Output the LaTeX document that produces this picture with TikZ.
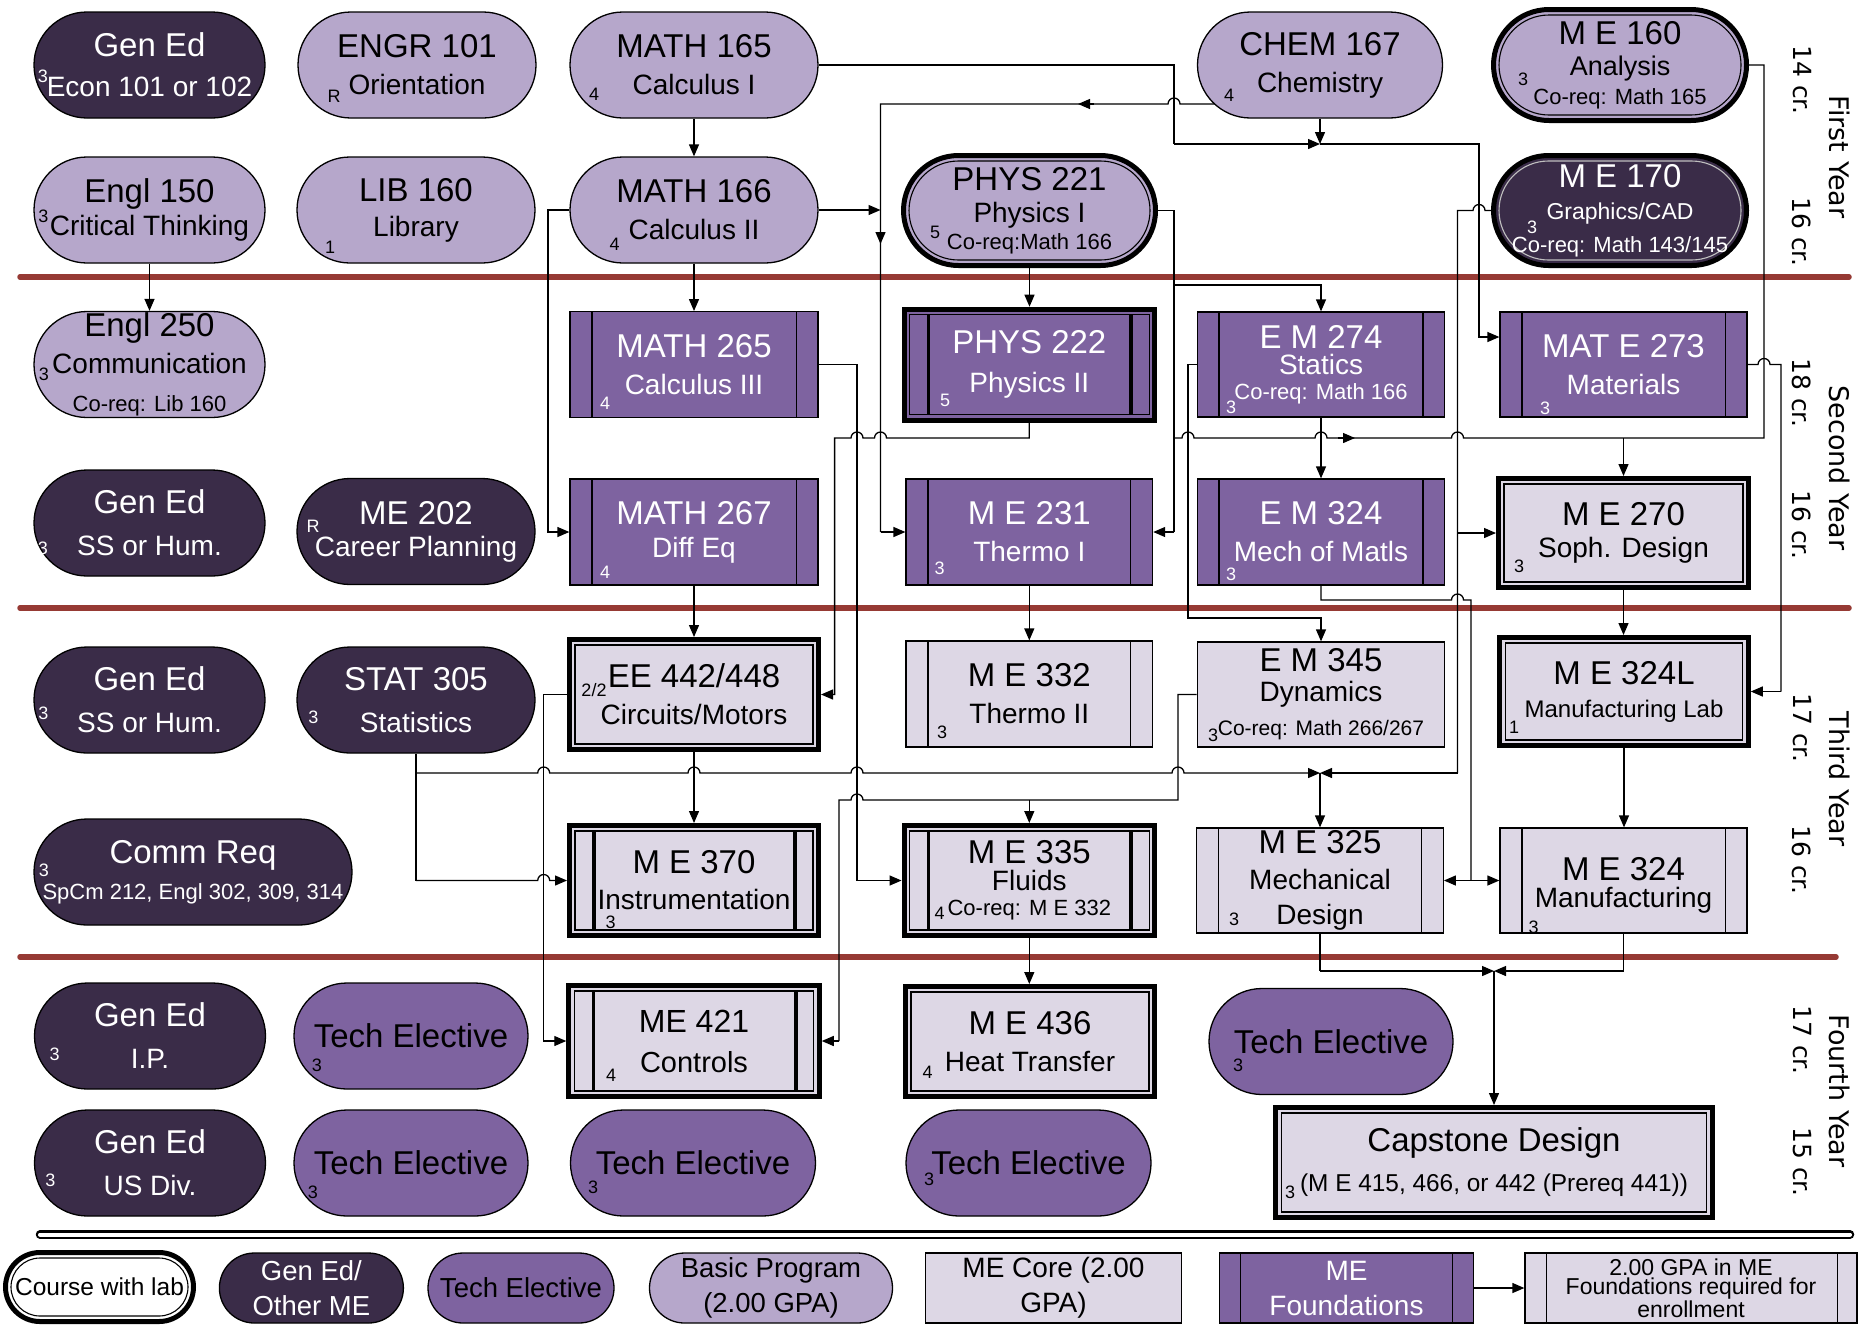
\documentclass[tikz,border=0pt]{standalone}
\usepackage{fontspec}
\setmainfont{Liberation Sans}
\newfontfamily\yrfont{DejaVu Sans}
\usetikzlibrary{arrows.meta,calc}
\pgfdeclarelayer{bg}
\pgfsetlayers{bg,main}
\definecolor{basic}{HTML}{B6A7CB}
\definecolor{dark}{HTML}{3A2C48}
\definecolor{tech}{HTML}{7E63A0}
\definecolor{core}{HTML}{DDD7E5}
\definecolor{redl}{HTML}{963A34}
\newcommand\ftitle{\fontsize{33}{37}\selectfont}
\newcommand\fsub{\fontsize{28}{37}\selectfont}
\newcommand\fco{\fontsize{22}{26}\selectfont}
\newcommand\fcr{\fontsize{18}{18}\selectfont}
\newcommand\fz[1]{\fontsize{#1}{37}\selectfont}
\newcommand\mybars[1]{\draw[line width=1.3pt] ([xshift=22.5pt]#1.north west) -- ([xshift=22.5pt]#1.south west) ([xshift=-22.5pt]#1.north east) -- ([xshift=-22.5pt]#1.south east);}
\newcommand\mylabr[1]{\draw[line width=1.1pt] ([shift={(8,8)}]#1.north west) rectangle ([shift={(-8,-8)}]#1.south east);}
\newcommand\mylabbars[1]{\draw[line width=3.5pt] ([shift={(27,8)}]#1.north west) -- ([shift={(27,-8)}]#1.south west) ([shift={(-26,8)}]#1.north east) -- ([shift={(-26,-8)}]#1.south east);}
\newcommand\mylabp[2]{\draw[line width=1.1pt, rounded corners=#2] ([shift={(8,8)}]#1.north west) rectangle ([shift={(-8,-8)}]#1.south east);}
\tikzset{
  box/.style={rectangle, draw=black, line width=1.3pt, inner sep=0pt},
  sz/.style 2 args={minimum width=#1, minimum height=#2},
  pill/.style={rounded corners=#1},
  lab/.style={line width=5pt},
  tw/.style={align=center, font=\fsub, text=white, inner sep=0pt},
  tb/.style={align=center, font=\fsub, text=black, inner sep=0pt},
  cw/.style={font=\fcr, text=white, inner sep=0pt},
  cb/.style={font=\fcr, text=black, inner sep=0pt},
  conn/.style={line width=1.3pt, draw=black},
  arr/.style={conn, -{Triangle[length=12pt,width=10pt]}},
  redline/.style={draw=redl, line width=5.5pt, line cap=round},
  yr/.style={font=\yrfont\fontsize{27}{30}\selectfont, rotate=-90, inner sep=0pt},
  crl/.style={font=\yrfont\fontsize{25}{28}\selectfont, rotate=-90, inner sep=0pt},
}
\begin{document}
\begin{tikzpicture}[x=1pt,y=-1pt]
\useasboundingbox (0,0) rectangle (1859,1326);
\begin{pgfonlayer}{bg}
\fill[white] (0,0) rectangle (1859,1326);
\draw[redline] (20,277) -- (1849,277);
\draw[redline] (20,608) -- (1849,608);
\draw[redline] (20,957) -- (1836,957);
\draw[line width=8.5pt, line cap=round] (40,1234.5) -- (1850,1234.5);
\draw[line width=4pt, white, line cap=round] (40,1234.5) -- (1850,1234.5);
\end{pgfonlayer}

% ---------- Row 1
\node[box,pill=53pt,sz={231}{106},fill=dark] (genA) at (149.5,65) {};
\node[tw] (genAt) at (genA) {{\ftitle Gen Ed}\\[3pt]Econ 101 or 102};
\node[cw] (genAc) at (43,76) {3};

\node[box,pill=53pt,sz={238}{106},fill=basic] (engr) at (417,65) {};
\node[tb] (engrt) at (engr) {{\ftitle ENGR 101}\\Orientation};
\node[cb] (engrc) at (334,96) {R};

\node[box,pill=53pt,sz={248}{106},fill=basic] (m165) at (694,65) {};
\node[tb] (m165t) at (m165) {{\ftitle MATH 165}\\Calculus I};
\node[cb] (m165c) at (594,94) {4};

\node[box,pill=53pt,sz={245}{106},fill=basic] (chem) at (1320,65) {};
\node[tb] (chemt) at (chem) {{\ftitle CHEM 167}\\Chemistry};
\node[cb] (chemc) at (1229,95) {4};

\node[box,lab,pill=55.5pt,sz={253}{111},fill=basic] (me160) at (1620,65) {};
\mylabp{me160}{50pt}
\node[tb] (me160t) at (me160) {{\ftitle M E 160}\\[-6pt]{\fz{27}Analysis}\\[-8pt]{\fco Co-req: Math 165}};
\node[cb] (me160c) at (1523,79) {3};

% ---------- Row 2
\node[box,pill=53pt,sz={231}{106},fill=basic] (engl150) at (149.5,210) {};
\node[tb] (engl150t) at (engl150) {{\ftitle Engl 150}\\[-4pt]Critical Thinking};
\node[cb] (engl150c) at (43.5,216) {3};

\node[box,pill=53pt,sz={238}{106},fill=basic] (lib) at (416,210) {};
\node[tb] (libt) at (lib) {{\ftitle LIB 160}\\[-2pt]Library};
\node[cb] (libc) at (330,247) {1};

\node[box,pill=53pt,sz={248}{106},fill=basic] (m166) at (694,210) {};
\node[tb] (m166t) at (m166) {{\ftitle MATH 166}\\Calculus II};
\node[cb] (m166c) at (614.5,244) {4};

\node[box,lab,pill=55pt,sz={252}{110},fill=basic] (phys221) at (1029.5,210.5) {};
\mylabp{phys221}{49.5pt}
\node[tb] (phys221t) at (phys221) {{\ftitle PHYS 221}\\[-5pt]Physics I\\[-10pt]{\fco Co-req:Math 166}};
\node[cb] (phys221c) at (935,232) {5};

\node[box,lab,pill=55pt,sz={253}{110},fill=dark] (me170) at (1620,210.5) {};
\draw[line width=1.1pt, white!75!black, rounded corners=49.5pt] ([shift={(8,8)}]me170.north west) rectangle ([shift={(-8,-8)}]me170.south east);
\node[tw] (me170t) at (me170) {{\ftitle M E 170}\\[-5pt]{\fz{23}Graphics/CAD}\\[-4pt]{\fco Co-req: Math 143/145}};
\node[cw] (me170c) at (1532,227) {3};

% ---------- Row 3
\node[box,pill=53pt,sz={231}{106},fill=basic] (engl250) at (149.5,364.5) {};
\node[tb] (engl250t) at (engl250) {{\ftitle Engl 250}\\Communication\\[1pt]{\fco Co-req: Lib 160}};
\node[cb] (engl250c) at (44,374) {3};

\node[box,sz={248}{106},fill=tech] (m265) at (694,364.7) {};
\mybars{m265}
\node[tw] (m265t) at (m265) {{\ftitle MATH 265}\\Calculus III};
\node[cw] (m265c) at (605,403) {4};

\node[box,lab,sz={250.5}{111},fill=tech] (phys222) at (1029.3,364.7) {};
\mylabr{phys222}\mylabbars{phys222}
\node[tw] (phys222t) at (phys222) {{\ftitle PHYS 222}\\[2pt]Physics II};
\node[cw] (phys222c) at (945,400) {5};

\node[box,sz={247.5}{105},fill=tech] (em274) at (1321,364.5) {};
\mybars{em274}
\node[tw] (em274t) at (em274) {{\ftitle E M 274}\\[-11pt]Statics\\[-12pt]{\fco Co-req: Math 166}};
\node[cw] (em274c) at (1231,407) {3};

\node[box,sz={247}{105},fill=tech] (mate273) at (1623.5,364.5) {};
\mybars{mate273}
\node[tw] (mate273t) at (mate273) {{\ftitle MAT E 273}\\Materials};
\node[cw] (mate273c) at (1545,408) {3};

% ---------- Row 4
\node[box,pill=53pt,sz={231}{106},fill=dark] (genB) at (149.5,523) {};
\node[tw] (genBt) at (genB) {{\ftitle Gen Ed}\\[5pt]SS or Hum.};
\node[cw] (genBc) at (43,548) {3};

\node[box,pill=53pt,sz={238}{106},fill=dark] (me202) at (416,531.5) {};
\node[tw] (me202t) at (me202) {{\ftitle ME 202}\\[-5pt]Career Planning};
\node[cw] (me202c) at (313,526) {R};

\node[box,sz={248}{106},fill=tech] (m267) at (694,532) {};
\mybars{m267}
\node[tw] (m267t) at (m267) {{\ftitle MATH 267}\\[-4pt]Diff Eq};
\node[cw] (m267c) at (605,572) {4};

\node[box,sz={246.5}{106},fill=tech] (me231) at (1029.3,532) {};
\mybars{me231}
\node[tw] (me231t) at (me231) {{\ftitle M E 231}\\Thermo I};
\node[cw] (me231c) at (939.5,568) {3};

\node[box,sz={247.5}{106},fill=tech] (em324) at (1321,532) {};
\mybars{em324}
\node[tw] (em324t) at (em324) {{\ftitle E M 324}\\Mech of Matls};
\node[cw] (em324c) at (1231,574) {3};

\node[box,lab,sz={250}{109},fill=core] (me270) at (1623.5,533) {};
\mylabr{me270}
\node[tb] (me270t) at (me270) {{\ftitle M E 270}\\[-5pt]Soph. Design};
\node[cb] (me270c) at (1519,566) {3};

% ---------- Row 5
\node[box,pill=53pt,sz={231}{106},fill=dark] (genC) at (149.5,700) {};
\node[tw] (genCt) at (genC) {{\ftitle Gen Ed}\\[5pt]SS or Hum.};
\node[cw] (genCc) at (43.5,713) {3};

\node[box,pill=53pt,sz={238}{106},fill=dark] (stat) at (416,700) {};
\node[tw] (statt) at (stat) {{\ftitle STAT 305}\\[5pt]Statistics};
\node[cw] (statc) at (313.5,717) {3};

\node[box,lab,sz={249}{110},fill=core] (ee442) at (694,694.5) {};
\mylabr{ee442}
\node[tb] (ee442t) at (ee442) {{\ftitle EE 442/448}\\Circuits/Motors};
\node[cb] (ee442c) at (594,690) {2/2};

\node[box,sz={246.5}{106},fill=core] (me332) at (1029.3,694) {};
\mybars{me332}
\node[tb] (me332t) at (me332) {{\ftitle M E 332}\\Thermo II};
\node[cb] (me332c) at (942,732) {3};

\node[box,sz={247.5}{105},fill=core] (em345) at (1321,694.5) {};
\node[tb] (em345t) at (em345) {{\ftitle E M 345}\\[-7pt]Dynamics\\[-3pt]{\fontsize{21}{26}\selectfont Co-req: Math 266/267}};
\node[cb] (em345c) at (1213,735) {3};

\node[box,lab,sz={248.5}{108},fill=core] (me324L) at (1624,691.5) {};
\mylabr{me324L}
\node[tb] (me324Lt) at (me324L) {{\ftitle M E 324L}\\[-4pt]{\fz{24}Manufacturing Lab}};
\node[cb] (me324Lc) at (1514,727) {1};

% ---------- Row 6
\node[box,pill=53pt,sz={318}{106},fill=dark] (comm) at (193,872) {};
\node[tw] (commt) at (comm) {{\ftitle Comm Req}\\[-1pt]{\fco SpCm 212, Engl 302, 309, 314}};
\node[cw] (commc) at (44,870) {3};

\node[box,lab,sz={249}{110},fill=core] (me370) at (694,880.5) {};
\mylabr{me370}\mylabbars{me370}
\node[tb] (me370t) at (me370) {{\ftitle M E 370}\\[-1pt]Instrumentation};
\node[cb] (me370c) at (610.5,922) {3};

\node[box,lab,sz={250.5}{110},fill=core] (me335) at (1029.3,880.5) {};
\mylabr{me335}\mylabbars{me335}
\node[tb] (me335t) at (me335) {{\ftitle M E 335}\\[-10pt]Fluids\\[-12pt]{\fco Co-req: M E 332}};
\node[cb] (me335c) at (939.5,913) {4};

\node[box,sz={246.5}{105},fill=core] (me325) at (1320,880.5) {};
\mybars{me325}
\node[tb] (me325t) at (me325) {{\ftitle M E 325}\\[-1pt]Mechanical\\[-2pt]Design};
\node[cb] (me325c) at (1234,919) {3};

\node[box,sz={247}{105},fill=core] (me324) at (1623.5,880.5) {};
\mybars{me324}
\node[tb] (me324t) at ([shift={(0,5)}]me324) {{\ftitle M E 324}\\[-10pt]Manufacturing};
\node[cb] (me324c) at (1533.5,927) {3};

% ---------- Row 7
\node[box,pill=53pt,sz={231}{106},fill=dark] (genD) at (150,1036) {};
\node[tw] (genDt) at (genD) {{\ftitle Gen Ed}\\[5pt]I.P.};
\node[cw] (genDc) at (54.6,1054) {3};

\node[box,pill=53pt,sz={234}{106},fill=tech] (te1) at (411,1036) {};
\node[tb] (te1t) at (te1) {\ftitle Tech Elective};
\node[cb] (te1c) at (317,1065) {3};

\node[box,lab,sz={250.5}{111},fill=core] (me421) at (694,1041) {};
\mylabr{me421}\mylabbars{me421}
\node[tb] (me421t) at (me421) {{\fz{32}ME 421}\\[3pt]{\fz{29}Controls}};
\node[cb] (me421c) at (611,1075) {4};

\node[box,lab,sz={249}{110},fill=core] (me436) at (1030,1041.5) {};
\mylabr{me436}
\node[tb] (me436t) at (me436) {{\ftitle M E 436}\\Heat Transfer};
\node[cb] (me436c) at (927.5,1072) {4};

\node[box,pill=53pt,sz={244}{106},fill=tech] (te2) at (1331,1041.5) {};
\node[tb] (te2t) at (te2) {\ftitle Tech Elective};
\node[cb] (te2c) at (1238,1065) {3};

% ---------- Row 8
\node[box,pill=53pt,sz={231}{106},fill=dark] (genE) at (150,1163) {};
\node[tw] (genEt) at (genE) {{\ftitle Gen Ed}\\[5pt]US Div.};
\node[cw] (genEc) at (50.4,1180) {3};

\node[box,pill=53pt,sz={234}{106},fill=tech] (te3) at (411,1163) {};
\node[tb] (te3t) at (te3) {\ftitle Tech Elective};
\node[cb] (te3c) at (313,1192) {3};

\node[box,pill=53pt,sz={245}{106},fill=tech] (te4) at (693,1163) {};
\node[tb] (te4t) at (te4) {\ftitle Tech Elective};
\node[cb] (te4c) at (593,1187) {3};

\node[box,pill=53pt,sz={245}{106},fill=tech] (te5) at (1028.5,1163) {};
\node[tb] (te5t) at (te5) {\ftitle Tech Elective};
\node[cb] (te5c) at (929,1179) {3};

\node[box,lab,sz={436.6}{110},fill=core] (cap) at (1494,1162.5) {};
\mylabr{cap}
\node[tb] (capt) at (cap) {{\ftitle Capstone Design}\\[3pt]{\fz{24.4}(M E 415, 466, or 442 (Prereq 441))}};
\node[cb] (capc) at (1290,1192) {3};

% ---------- Year labels
\node[yr] (yr1) at (1840,157) {First Year};
\node[crl] (cr1a) at (1802,80) {14 cr.};
\node[crl] (cr1b) at (1802,232) {16 cr.};
\node[yr] (yr2) at (1840,468) {Second Year};
\node[crl] (cr2a) at (1802,393) {18 cr.};
\node[crl] (cr2b) at (1802,525) {16 cr.};
\node[yr] (yr3) at (1840,779) {Third Year};
\node[crl] (cr3a) at (1802,728) {17 cr.};
\node[crl] (cr3b) at (1802,860) {16 cr.};
\node[yr] (yr4) at (1840,1091) {Fourth Year};
\node[crl] (cr4a) at (1802,1040) {17 cr.};
\node[crl] (cr4b) at (1802,1162) {15 cr.};

% ---------- Legend
\node[box,lab,pill=34.5pt,sz={188}{69},fill=white] (L1) at (99.5,1287) {};
\mylabp{L1}{29pt}
\node[tb] (L1t) at (L1) {\fz{24.5}Course with lab};
\node[box,pill=35pt,sz={184}{70},fill=dark] (L2) at (311.4,1288) {};
\node[tw,font=\fontsize{27.5}{35}\selectfont] (L2t) at (L2) {Gen Ed/\\Other ME};
\node[box,pill=35pt,sz={186}{70},fill=tech] (L3) at (521,1288) {};
\node[tb,font=\fontsize{27.5}{35}\selectfont] (L3t) at (L3) {Tech Elective};
\node[box,pill=35pt,sz={243}{70},fill=basic] (L4) at (771,1288) {};
\node[tb,font=\fontsize{27.5}{35}\selectfont] (L4t) at (L4) {Basic Program\\(2.00 GPA)};
\node[box,sz={255.6}{70},fill=core] (L5) at (1053.5,1288) {};
\node[tb,font=\fontsize{28}{35}\selectfont] (L5t) at (L5) {ME Core (2.00\\GPA)};
\node[box,sz={254.4}{70},fill=tech] (L6) at (1346.5,1288) {};
\draw[line width=1.3pt] ([xshift=21.5pt]L6.north west) -- ([xshift=21.5pt]L6.south west) ([xshift=-22pt]L6.north east) -- ([xshift=-22pt]L6.south east);
\node[tw,font=\fontsize{28}{35}\selectfont] (L6t) at (L6) {ME\\Foundations};
\node[box,sz={332}{70},fill=core] (L7) at (1691,1288) {};
\draw[line width=1.3pt] ([xshift=22pt]L7.north west) -- ([xshift=22pt]L7.south west) ([xshift=-20pt]L7.north east) -- ([xshift=-20pt]L7.south east);
\node[tb,font=\fontsize{23}{19.5}\selectfont] (L7t) at (L7) {2.00 GPA in ME\\Foundations required for\\enrollment};

% ---------- Connectors
\begin{pgfonlayer}{bg}
\draw[arr] (L6.east) -- (L7.west);
\draw[arr] (engl150.south) -- (engl250.north);
\draw[arr] (m165.south) -- (m166.north);
\draw[arr] (m166.south) -- (m265.north);
\draw[arr] (phys221.south) -- (phys221.south |- phys222.north);
\draw[arr] (m166.west) -- (548,210) -- (548,532) -- (m267.west);
\draw[arr] (m166.east) -- (880.5,210);
\draw[conn] ($(chem.center)+(-60,39)$) -- (1180,104) arc[start angle=0,end angle=180,radius=6pt] -- (880.5,104) -- (880.5,532);
\draw[arr] (880.5,532) -- (me231.west);
\draw[arr] (1094,104) -- (1078,104);
\draw[arr] (880.5,226) -- (880.5,244);
\draw[conn] (m165.east) -- (1174,65) -- (1174,144);
\draw[arr] (1174,144) -- (1320,144);
\draw[arr] (chem.south) -- (1320,144);
\draw[arr] (1320,144) -- (1479,144) -- (1479,337) -- (mate273.west |- 0,337);
\draw[conn] (phys221.east) -- (1174,210.5) -- (1174,532);
\draw[arr] (1174,532) -- (me231.east);
\draw[arr] (1174,285) -- (1321,285) -- (em274.north);
\draw[conn] (1174,438) -- (1182,438) arc[start angle=180,end angle=0,radius=6pt] -- (1315,438) arc[start angle=180,end angle=0,radius=6pt] -- (1451.5,438) arc[start angle=180,end angle=0,radius=6pt] -- (1764,438) -- (1764,65) -- (me160.east);
\draw[arr] (1338,438) -- (1355,438);
\draw[arr] (me270.north |- 0,438) -- (me270.north);
\draw[conn] (me170.west) -- (1485,210.5) arc[start angle=0,end angle=180,radius=6pt] -- (1457.5,210.5) -- (1457.5,773);
\draw[arr] (1457.5,773) -- (1320,773);
\draw[arr] (1457.5,533) -- (me270.west);
\draw[conn] (mate273.east) -- (1758,364.5) arc[start angle=180,end angle=0,radius=6pt] -- (1781,364.5) -- (1781,691.5);
\draw[arr] (1781,691.5) -- (me324L.east);
\draw[arr] (m265.east) -- (857,364.7) -- (857,880.5) -- (me335.west);
\draw[arr] (phys222.south) -- (1029.3,438) -- (886.5,438) arc[start angle=0,end angle=180,radius=6pt] -- (863,438) arc[start angle=0,end angle=180,radius=6pt] -- (834.6,438) -- (834.6,694.5) -- (ee442.east);
\draw[arr] (em274.south) -- (em324.north);
\draw[arr] (em274.west) -- (1188,364.5) -- (1188,618) -- (1321,618) -- (em345.north);
\draw[arr] (m267.south) -- (ee442.north);
\draw[arr] (me231.south) -- (me231.south |- me332.north);
\draw[arr] (me270.south) -- (me270.south |- me324L.north);
\draw[conn] (em324.south) -- (1321,600) -- (1451.5,600) arc[start angle=180,end angle=0,radius=6pt] -- (1471,600) -- (1471,880.5);
\draw[arr] (1471,880.5) -- (me325.east);
\draw[arr] (1471,880.5) -- (me324.west);
\draw[arr] (me324L.south) -- (me324L.south |- me324.north);
\draw[conn] (stat.south) -- (416,880.5);
\draw[arr] (416,880.5) -- (537.7,880.5) arc[start angle=180,end angle=0,radius=6pt] -- (me370.west);
\draw[arr] (416,773) -- (537.7,773) arc[start angle=180,end angle=0,radius=6pt] -- (688,773) arc[start angle=180,end angle=0,radius=6pt] -- (851,773) arc[start angle=180,end angle=0,radius=6pt] -- (1172,773) arc[start angle=180,end angle=0,radius=6pt] -- (1320,773);
\draw[arr] (ee442.south) -- (me370.north);
\draw[arr] (ee442.west) -- (543.7,694.5) -- (543.7,1041) -- (me421.west);
\draw[conn] (em345.west) -- (1178,694.5) -- (1178,800) -- (863,800) arc[start angle=0,end angle=180,radius=6pt] -- (839,800) -- (839,1041);
\draw[arr] (839,1041) -- (me421.east);
\draw[arr] (1029.3,800) -- (me335.north);
\draw[arr] (1320,773) -- (me325.north);
\draw[arr] (me335.south) -- (me335.south |- me436.north);
\draw[conn] (me325.south) -- (1320,971);
\draw[arr] (1320,971) -- (1494,971);
\draw[conn] (me324.south) -- (1623.5,971);
\draw[arr] (1623.5,971) -- (1494,971);
\draw[arr] (1494,971) -- (cap.north);
\end{pgfonlayer}
\end{tikzpicture}
\end{document}
